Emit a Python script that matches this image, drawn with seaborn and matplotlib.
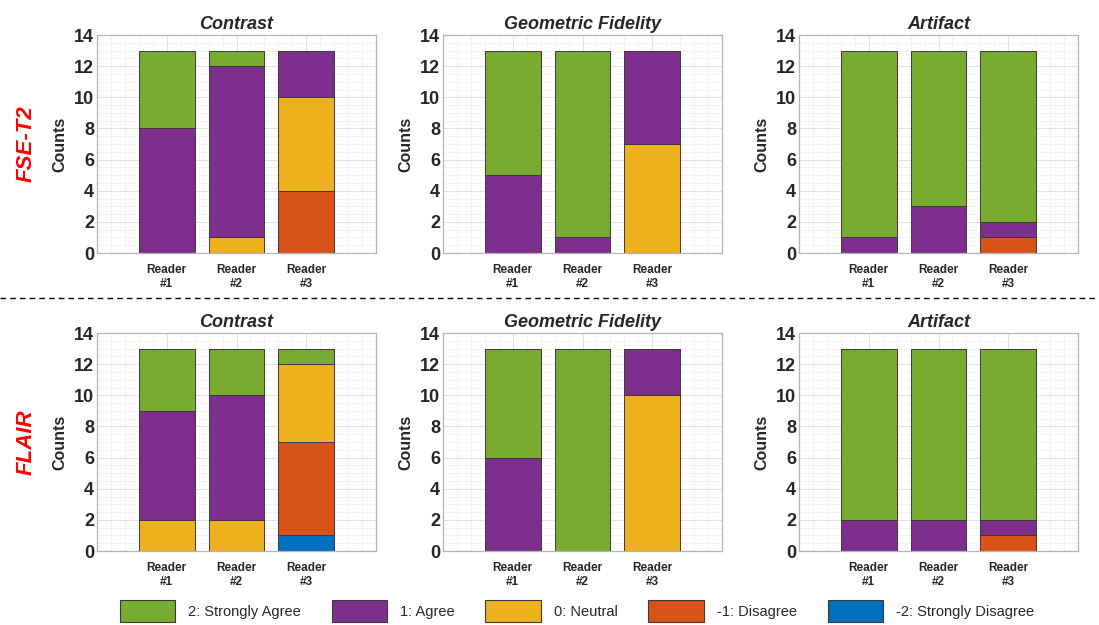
import matplotlib
matplotlib.use("Agg")
import matplotlib.pyplot as plt
from matplotlib.patches import Patch
from matplotlib.ticker import MultipleLocator
import seaborn as sns
import pandas as pd

sns.set_style("white")
plt.rcParams['font.family'] = ['Liberation Sans', 'DejaVu Sans']

readers = [1, 2, 3]
reader_labels = ['Reader\n#1', 'Reader\n#2', 'Reader\n#3']
levels = ['2: Strongly Agree', '1: Agree', '0: Neutral', '-1: Disagree', '-2: Strongly Disagree']
colors = ['#77AC30', '#7E2F8E', '#EDB120', '#D95319', '#0072BD']
metrics = ['Contrast', 'Geometric Fidelity', 'Artifact']
sequences = ['FSE-T2', 'FLAIR']

# counts per reader, order: strongly agree, agree, neutral, disagree, strongly disagree
fse_contrast = [[5, 8, 0, 0, 0], [1, 11, 1, 0, 0], [0, 3, 6, 4, 0]]
fse_geometric = [[8, 5, 0, 0, 0], [12, 1, 0, 0, 0], [0, 6, 7, 0, 0]]
fse_artifact = [[12, 1, 0, 0, 0], [10, 3, 0, 0, 0], [11, 1, 0, 1, 0]]
flair_contrast = [[4, 7, 2, 0, 0], [3, 8, 2, 0, 0], [1, 0, 5, 6, 1]]
flair_geometric = [[7, 6, 0, 0, 0], [13, 0, 0, 0, 0], [0, 3, 10, 0, 0]]
flair_artifact = [[11, 2, 0, 0, 0], [11, 2, 0, 0, 0], [11, 1, 0, 1, 0]]

data = {
    ('FSE-T2', 'Contrast'): fse_contrast,
    ('FSE-T2', 'Geometric Fidelity'): fse_geometric,
    ('FSE-T2', 'Artifact'): fse_artifact,
    ('FLAIR', 'Contrast'): flair_contrast,
    ('FLAIR', 'Geometric Fidelity'): flair_geometric,
    ('FLAIR', 'Artifact'): flair_artifact,
}

palette = dict(zip(levels, colors))

fig = plt.figure(figsize=(10.99, 6.25), dpi=100)
lefts = [97 / 1099, 443 / 1099, 799 / 1099]
bottoms = [1 - 253 / 625, 1 - 551 / 625]
w, h = 279 / 1099, 218 / 625

for r, seq in enumerate(sequences):
    for c, metric in enumerate(metrics):
        ax = fig.add_axes([lefts[c], bottoms[r], w, h])
        rows = []
        for i, reader in enumerate(readers):
            for j, lev in enumerate(levels):
                rows.append({'reader': reader, 'level': lev, 'count': data[(seq, metric)][i][j]})
        df = pd.DataFrame(rows)
        sns.histplot(data=df, x='reader', weights='count', hue='level', hue_order=levels,
                     multiple='stack', discrete=True, shrink=0.8, palette=palette,
                     alpha=1, edgecolor='#3a3a3a', linewidth=0.7, legend=False, ax=ax)
        ax.set_xlim(0, 4)
        ax.set_ylim(0, 14)
        ax.set_xticks(readers)
        ax.set_xticklabels(reader_labels, fontsize=8.5, fontweight='bold', color='#262626')
        ax.yaxis.set_major_locator(MultipleLocator(2))
        ax.yaxis.set_minor_locator(MultipleLocator(0.5))
        ax.xaxis.set_minor_locator(MultipleLocator(0.2))
        ax.tick_params(axis='y', labelsize=13, labelcolor='#262626', direction='in',
                       length=3, color='#888888', pad=2)
        for lab in ax.get_yticklabels():
            lab.set_fontweight('bold')
        ax.tick_params(axis='x', direction='in', length=3, color='#888888', pad=8)
        ax.tick_params(which='minor', length=0)
        ax.grid(which='major', color='#dcdcdc', linewidth=0.6)
        ax.grid(which='minor', color='#efefef', linewidth=0.5)
        ax.set_axisbelow(True)
        for s in ax.spines.values():
            s.set_color('#b4b4b4')
            s.set_linewidth(0.9)
        ax.set_xlabel('')
        ax.set_ylabel('Counts', fontsize=11.5, fontweight='bold', color='#262626', labelpad=5)
        ax.set_title(metric, fontsize=13, fontweight='bold', style='italic', pad=4)
        if c == 0:
            ax.text(-0.255, 0.5, seq, transform=ax.transAxes, rotation=90, color='red',
                    fontsize=16, fontweight='bold', style='italic', ha='center', va='center')

# separator between the rows
fig.add_artist(plt.Line2D([0, 1], [1 - 298 / 625, 1 - 298 / 625], color='black',
                          linestyle=(0, (4, 3)), linewidth=1))

handles = [Patch(facecolor=col, edgecolor='#3a3a3a', linewidth=0.8) for col in colors]
fig.legend(handles, levels, loc='center', bbox_to_anchor=(0.525, 1 - 611 / 625), ncol=5,
           frameon=False, prop={'size': 10.5},
           handlelength=3.8, handleheight=1.9, columnspacing=2.1, handletextpad=0.9)

fig.savefig('out.png', dpi=100)
